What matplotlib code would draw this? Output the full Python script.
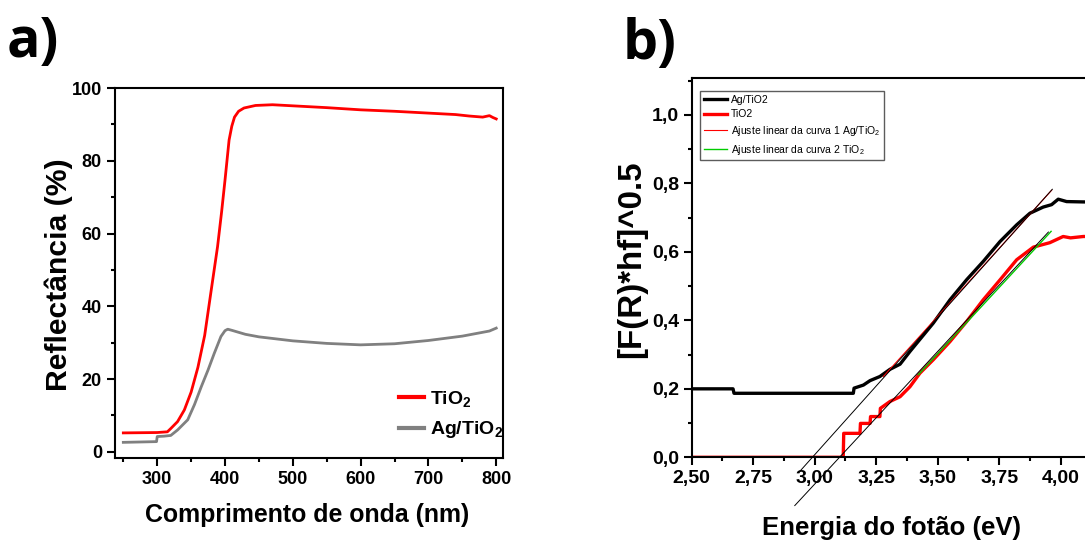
import matplotlib
matplotlib.use("Agg")
import matplotlib.pyplot as plt
from matplotlib.ticker import MultipleLocator, FuncFormatter

# a) reflectance spectra
wl_tio2 = [250, 300, 315, 320, 330, 340, 350, 360, 370, 379, 389, 395, 400, 406,
           410, 414, 420, 428, 445, 470, 500, 550, 600, 650, 700, 740, 760, 780, 790, 795, 800]
r_tio2 = [5.2, 5.3, 5.5, 6.4, 8.3, 11.5, 16.4, 23.2, 32, 43.6, 56.4, 66, 74.7, 85.7,
          89.5, 92, 93.6, 94.5, 95.2, 95.4, 95.1, 94.6, 94.0, 93.6, 93.1, 92.7, 92.3, 92.0, 92.4, 91.9, 91.5]
wl_ag = [250, 299, 300, 310, 320, 330, 345, 355, 365, 375, 384, 394, 400, 404,
         410, 430, 450, 500, 550, 600, 650, 700, 750, 790, 800]
r_ag = [2.6, 2.8, 4.2, 4.3, 4.5, 6.0, 8.8, 13, 17.9, 22.5, 27, 31.7, 33.3, 33.7,
        33.4, 32.3, 31.6, 30.5, 29.8, 29.4, 29.7, 30.6, 31.8, 33.2, 34.0]

# b) Tauc plot
e_ag = [2.50, 2.668, 2.672, 3.157, 3.16, 3.198, 3.225, 3.265, 3.306, 3.347, 3.387,
        3.482, 3.55, 3.618, 3.685, 3.753, 3.821, 3.875, 3.929, 3.963, 3.99, 4.024, 4.092, 4.2]
f_ag = [0.200, 0.200, 0.187, 0.187, 0.202, 0.211, 0.224, 0.236, 0.257, 0.272, 0.309,
        0.392, 0.46, 0.519, 0.572, 0.63, 0.679, 0.713, 0.731, 0.738, 0.754, 0.747, 0.746, 0.745]
e_ti = [2.50, 3.116, 3.118, 3.184, 3.186, 3.225, 3.227, 3.265, 3.267, 3.306, 3.347, 3.387,
        3.428, 3.482, 3.55, 3.618, 3.685, 3.753, 3.821, 3.889, 3.956, 4.01, 4.04, 4.092, 4.2]
f_ti = [0.0, 0.0, 0.070, 0.070, 0.099, 0.099, 0.119, 0.119, 0.143, 0.163, 0.177, 0.206,
        0.246, 0.285, 0.338, 0.397, 0.46, 0.518, 0.577, 0.614, 0.627, 0.645, 0.641, 0.645, 0.645]
fit1_x = [3.279, 3.963]
fit1_y = [0.236, 0.780]
fit2_x = [3.421, 3.961]
fit2_y = [0.241, 0.660]
tang1_x = [2.937, 3.966]
tang1_y = [-0.043, 0.783]
tang2_x = [2.919, 3.950]
tang2_y = [-0.141, 0.658]

sans = ["Liberation Sans", "DejaVu Sans"]
plt.rcParams["font.family"] = sans
plt.rcParams["mathtext.default"] = "regular"

W, H = 1085, 545
fig = plt.figure(figsize=(W / 100, H / 100), dpi=100)
renderer = fig.canvas.get_renderer()


def fit_size(txt, target, vertical=False):
    # scale font size so the label spans target pixels
    bb = txt.get_window_extent(renderer)
    cur = bb.height if vertical else bb.width
    txt.set_fontsize(txt.get_fontsize() * target / cur)


def style(ax, size):
    for s in ax.spines.values():
        s.set_linewidth(1.5)
    ax.tick_params(which="major", direction="out", length=6, width=1.5,
                   labelsize=size, pad=3)
    ax.tick_params(which="minor", direction="out", length=3, width=1.5)
    for lab in ax.get_xticklabels() + ax.get_yticklabels():
        lab.set_fontweight("bold")


# ---- panel a
ax1 = fig.add_axes([114.5 / W, 1 - 458 / H, (503 - 114.5) / W, (458 - 88) / H])
ax1.plot(wl_tio2, r_tio2, color="#ff0000", lw=2, label="TiO$_2$")
ax1.plot(wl_ag, r_ag, color="#808080", lw=2, label="Ag/TiO$_2$")
ax1.set_xlim(237, 810)
ax1.set_ylim(-1.7, 100)
ax1.xaxis.set_major_locator(MultipleLocator(100))
ax1.xaxis.set_minor_locator(MultipleLocator(50))
ax1.yaxis.set_major_locator(MultipleLocator(20))
ax1.yaxis.set_minor_locator(MultipleLocator(10))
style(ax1, 13)
xl1 = fig.text(307 / W, 1 - 522 / H, "Comprimento de onda (nm)", fontsize=19,
               fontweight="bold", ha="center", va="baseline")
fit_size(xl1, 325)
yl1 = fig.text(73 / W, 1 - 275 / H, "Reflectância (%)", fontsize=16,
               fontweight="bold", rotation=90, ha="right", va="center")
fit_size(yl1, 233, vertical=True)
leg1 = ax1.legend(loc="upper left", bbox_to_anchor=(391 / W, 1 - 381 / H),
                  bbox_transform=fig.transFigure, frameon=False, handlelength=1.3,
                  handletextpad=0.3, labelspacing=0.55, borderaxespad=0,
                  prop={"weight": "bold", "size": 14})
for h in leg1.get_lines():
    h.set_linewidth(3)
fig.text(33 / W, 1 - 42 / H, "a)", fontsize=40, fontweight="bold",
         family=["Open Sans", "DejaVu Sans"], ha="center", va="center")

# ---- panel b
ax2 = fig.add_axes([691.7 / W, 1 - 457.3 / H, 1.7 * 246 / W, (457.3 - 78) / H])
ax2.plot(e_ag, f_ag, color="black", lw=2.4, label="Ag/TiO2")
ax2.plot(e_ti, f_ti, color="#ff0000", lw=2.4, label="TiO2")
ax2.plot(fit1_x, fit1_y, color="#ff0000", lw=0.8, label="Ajuste linear da curva 1 Ag/TiO$_2$")
ax2.plot(fit2_x, fit2_y, color="#00cc00", lw=1.0, label="Ajuste linear da curva 2 TiO$_2$")
ax2.plot(tang1_x, tang1_y, color="black", lw=0.7, clip_on=False)
ax2.plot(tang2_x, tang2_y, color="black", lw=0.7, clip_on=False)
ax2.set_xlim(2.5, 4.2)
ax2.set_ylim(0, 1.108)
ax2.xaxis.set_major_locator(MultipleLocator(0.25))
ax2.xaxis.set_minor_locator(MultipleLocator(0.125))
ax2.yaxis.set_major_locator(MultipleLocator(0.2))
ax2.yaxis.set_minor_locator(MultipleLocator(0.1))
ax2.xaxis.set_major_formatter(FuncFormatter(lambda v, p: f"{v:.2f}".replace(".", ",")))
ax2.yaxis.set_major_formatter(FuncFormatter(lambda v, p: f"{v:.1f}".replace(".", ",")))
style(ax2, 14)
for lab in ax2.get_xticklabels() + ax2.get_yticklabels():
    lab.set_fontweight("bold")
xl2 = fig.text(892 / W, 1 - 535 / H, "Energia do fotão (eV)", fontsize=19,
               fontweight="bold", ha="center", va="baseline")
fit_size(xl2, 260)
yl2 = fig.text(647 / W, 1 - 259 / H, "[F(R)*hf]^0.5", fontsize=18,
               fontweight="bold", rotation=90, ha="right", va="center")
fit_size(yl2, 198, vertical=True)
leg2 = ax2.legend(loc="upper left", bbox_to_anchor=(700 / W, 1 - 91 / H),
                  bbox_transform=fig.transFigure, frameon=True, fancybox=False,
                  edgecolor="#333333", handlelength=2.2, handletextpad=0.4,
                  labelspacing=0.45, borderaxespad=0, borderpad=0.35,
                  prop={"size": 7.5})
leg2.get_frame().set_linewidth(1.0)
fig.text(650 / W, 1 - 45 / H, "b)", fontsize=40, fontweight="bold",
         family=["Open Sans", "DejaVu Sans"], ha="center", va="center")

fig.savefig("out.png", dpi=100)
